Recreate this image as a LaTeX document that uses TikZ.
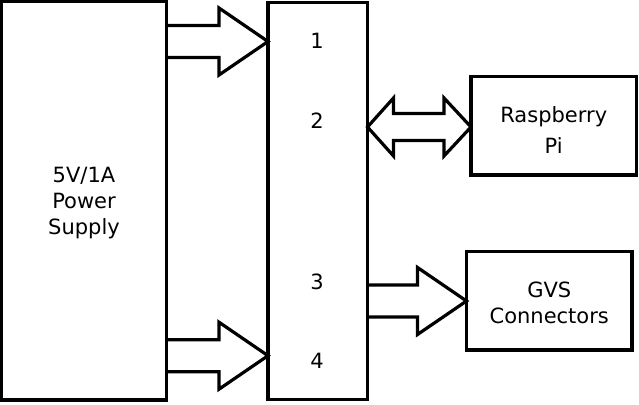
\documentclass[tikz,border=0pt]{standalone}
\usepackage{fontspec}
\setmainfont{DejaVu Sans}
\usetikzlibrary{calc}

\begin{document}
\begin{tikzpicture}[x=1pt,y=-1pt,
    box/.style={draw=black, line width=3.2pt, outer sep=0pt, inner sep=0pt},
    txt/.style={align=center, inner sep=0pt, font=\fontsize{21}{26}\selectfont},
    fat/.style={draw=black, line width=3.2pt, line join=miter}]
    \useasboundingbox (0,0) rectangle (639,404);

    % blocks
    \node[box, minimum width=165pt, minimum height=398.5pt] (psu) at (84,200.75) {};
    \node[box, minimum width=99.5pt, minimum height=397pt] (hub) at (317.75,201) {};
    \node[box, minimum width=165.5pt, minimum height=98.5pt] (rpi) at (553.75,125.75) {};
    \node[box, minimum width=165.5pt, minimum height=98.5pt] (gvs) at (549.25,300.75) {};

    % block texts
    \node[txt] (psutext) at (84,203.5) {5V/1A\\Power\\Supply};
    \node[txt] (rpitext) at (553.75,130) {Raspberry\\[5pt]Pi};
    \node[txt] (gvstext) at (549.25,302.5) {GVS\\Connectors};

    % pin numbers
    \foreach \n/\y in {1/40.5, 2/120.5, 3/281.5, 4/360.5}
        \node[txt] (pin\n) at (317,\y) {\n};

    % power arrows
    \foreach \a/\b/\y/\i in {psu/hub/41.5/1, psu/hub/355.7/4, hub/gvs/301/3}
    {
        \coordinate (s\i) at (\a.east |- 0,\y);
        \coordinate (e\i) at (\b.west |- 0,\y);
        \draw[fat] ($(s\i)+(0,-16)$) -- ($(e\i)+(-49,-16)$) -- ($(e\i)+(-49,-33.5)$)
            -- (e\i) -- ($(e\i)+(-49,33.5)$) -- ($(e\i)+(-49,16)$) -- ($(s\i)+(0,16)$);
    }

    % data link
    \coordinate (s2) at (hub.east |- 0,127);
    \coordinate (e2) at (rpi.west |- 0,127);
    \draw[fat] (s2) -- ($(s2)+(26,-29)$) -- ($(s2)+(26,-13.5)$) -- ($(e2)+(-27,-13.5)$)
        -- ($(e2)+(-27,-29)$) -- (e2) -- ($(e2)+(-27,29)$) -- ($(e2)+(-27,13.5)$)
        -- ($(s2)+(26,13.5)$) -- ($(s2)+(26,29)$) -- cycle;
\end{tikzpicture}
\end{document}
